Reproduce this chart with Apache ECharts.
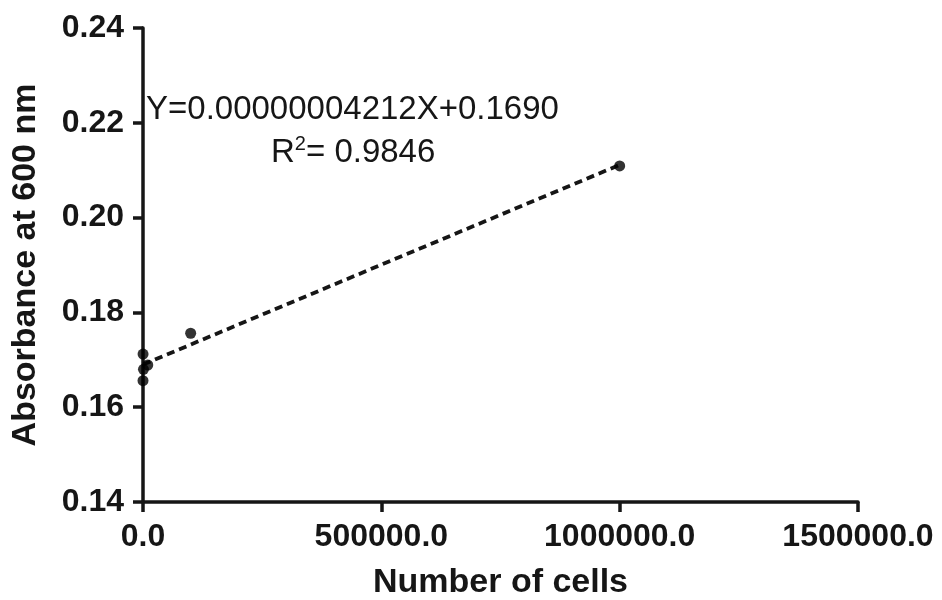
<!DOCTYPE html>
<html>
<head>
<meta charset="utf-8">
<script src="https://cdn.jsdelivr.net/npm/echarts@6/dist/echarts.min.js"></script>
<style>
  html, body { margin: 0; padding: 0; background: #fff; }
  #chart { width: 942px; height: 600px; }
</style>
</head>
<body>
<div id="chart"></div>
<script>
// Standard curve: absorbance at 600 nm vs. number of cells
const cellCounts = [10, 100, 1000, 10000, 100000, 1000000];
const absorbance = [0.1656, 0.1712, 0.1680, 0.1689, 0.1756, 0.2109];

// Linear fit
const slope = 0.00000004212;
const intercept = 0.1690;
const fitRange = [0, 1000000];
const equationText = 'Y=0.00000004212X+0.1690';
const r2Text = '0.9846';

const xTicks = { min: 0, max: 1500000, interval: 500000 };
const yTicks = { min: 0.14, max: 0.24, interval: 0.02 };

const ink = '#161616';
const fontFamily = '"Liberation Sans", Arial, sans-serif';

const points = cellCounts.map((x, i) => [x, absorbance[i]]);
const fitLine = fitRange.map(x => [x, slope * x + intercept]);

const axisCommon = {
  axisLine: { show: true, lineStyle: { color: ink, width: 3.5 } },
  axisTick: { show: true, inside: false, length: 10, lineStyle: { color: ink, width: 3.5 } },
  splitLine: { show: false },
  nameTextStyle: { color: ink, fontFamily, fontWeight: 'bold', fontSize: 34 },
};

const chart = echarts.init(document.getElementById('chart'), null, { renderer: 'canvas' });
chart.setOption({
  backgroundColor: '#ffffff',
  animation: false,
  grid: {
    left: 143, right: 84, top: 28, bottom: 98,
    containLabel: false,
    outerBoundsMode: 'none'
  },
  xAxis: Object.assign({}, axisCommon, {
    type: 'value',
    min: xTicks.min, max: xTicks.max, interval: xTicks.interval,
    name: 'Number of cells',
    nameLocation: 'middle',
    nameGap: 64,
    axisLabel: {
      color: ink, fontFamily, fontWeight: 'bold', fontSize: 32, margin: 19,
      formatter: v => v.toFixed(1)
    }
  }),
  yAxis: Object.assign({}, axisCommon, {
    type: 'value',
    min: yTicks.min, max: yTicks.max, interval: yTicks.interval,
    name: 'Absorbance at 600 nm',
    nameLocation: 'middle',
    nameGap: 100,
    axisLabel: {
      color: ink, fontFamily, fontWeight: 'bold', fontSize: 32, margin: 19,
      formatter: v => v.toFixed(2)
    }
  }),
  series: [
    {
      type: 'line',
      data: fitLine,
      showSymbol: false,
      symbol: 'none',
      lineStyle: { color: ink, width: 3.8, type: [8, 5] },
      z: 2
    },
    {
      type: 'scatter',
      data: points,
      symbol: 'circle',
      symbolSize: 11,
      itemStyle: { color: '#000' },
      z: 3
    }
  ],
  graphic: [
    {
      type: 'text',
      left: 146,
      top: 93,
      style: {
        text: equationText,
        fill: ink,
        font: '33px ' + fontFamily
      }
    },
    {
      type: 'text',
      left: 271,
      top: 134,
      style: {
        text: 'R{sup|2}= ' + r2Text,
        fill: ink,
        font: '33px ' + fontFamily,
        rich: {
          sup: { fontSize: 20, fontFamily, fill: ink, padding: [0, 0, 17, 0] }
        }
      }
    }
  ]
});
</script>
</body>
</html>
